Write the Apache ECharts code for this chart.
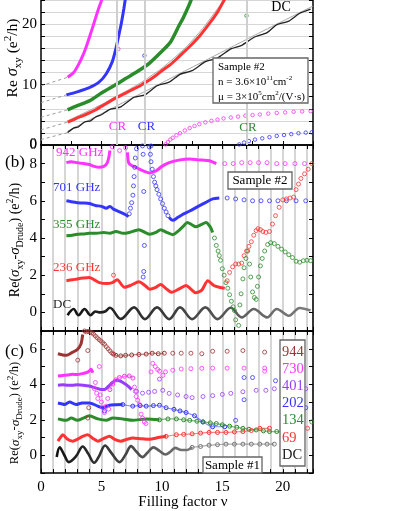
<!DOCTYPE html>
<html>
<head>
<meta charset="utf-8">
<script src="https://cdn.jsdelivr.net/npm/echarts@6/dist/echarts.min.js"></script>
<style>
  html, body { margin: 0; background: #fff; }
  #chart { width: 395px; height: 511px; }
</style>
</head>
<body>
<div id="chart"></div>
<script>
const FONT = '"Liberation Serif", "Times New Roman", serif';
const COL = {
  mag: '#ff33ff', blue: '#3434ff', green: '#2a8c2a', red: '#ff3333',
  dc: '#333333', brown: '#9c3434', purple: '#9a3cff', gray: '#a8a8a8'
};

// ---------- panel (a): Re sigma_xy, sample #2 ----------
const aDC = [[2.2,2.05],[2.7,2.8],[3.1,3.0],[3.6,3.8],[4.1,4.0],[4.5,4.6],[5.0,5.0],[5.7,5.9],[6.6,6.3],[7.7,7.9],[8.6,8.3],[9.6,9.8],[10.6,10.4],[11.5,11.7],[12.5,12.3],[13.6,13.8],[14.6,14.4],[15.7,15.9],[16.6,16.5],[17.6,17.8],[18.7,18.6],[19.5,19.9],[20.5,20.5],[21.4,21.8],[22.3,22.5]];
const a236 = [[2.2,3.8],[2.6,4.1],[3,4.5],[3.5,4.85],[4,5.3],[4.5,5.8],[5,6.4],[5.6,7.1],[6.2,7.8],[7,8.6],[7.5,9.1],[8,9.6],[8.5,10.2],[9,10.8],[9.5,11.5],[10,12.3],[10.7,13.3],[11.4,14.6],[12.3,16.3],[13.1,18.0],[14,20.3],[14.6,22.0],[15.1,23.8],[15.3,24.5]];
const a355 = [[2.2,5.8],[3,6.5],[4,7.3],[5,8.6],[6.2,10.0],[7,11.0],[8,12.2],[9,13.6],[10,15.5],[10.7,17.0],[11.4,19.7],[11.8,21.2],[12.3,23.4],[12.5,24.5]];
const a701 = [[2.1,8.3],[3,8.8],[4,9.5],[4.8,10.4],[5.4,11.8],[5.9,13.8],[6.2,16.0],[6.45,18.3],[6.65,20.2],[6.85,22.5],[7.0,24.5]];
const a942 = [[2.2,11.2],[2.7,12.0],[3.1,13.3],[3.5,15.0],[3.8,16.6],[4.1,18.4],[4.4,20.3],[4.7,22.2],[4.95,23.6],[5.1,24.5]];
const aDrudeDC = [[2.2,2.3],[6,6.2],[10,10.3],[14,14.4],[18,18.5],[22.5,23.0]];
const aDrude236 = [[2.2,4.0],[5,6.7],[8,10.0],[10,12.7],[12,16.2],[13.5,19.6],[14.9,23.4],[15.1,24]];
const aExtStart = [0.9, 2.5, 4.6, 7.0, 9.8];   // dashed extrapolations at nu = 0 (DC, 236, 355, 701, 942)
const aCR942 = [[10.3,0.1],[10.5,0.5],[10.7,0.9],[10.9,1.2],[11.2,1.6],[11.5,1.95],[11.9,2.4],[12.3,2.8],[12.7,3.15],[13.1,3.45],[13.6,3.75],[14.1,4.0],[14.6,4.2],[15.1,4.4],[15.7,4.55],[16.3,4.7],[16.9,4.85],[17.5,4.95],[18.1,5.05],[18.8,5.2],[19.5,5.3],[20.2,5.4],[20.9,5.5],[21.6,5.55],[22.3,5.6]];
const aCR701 = [[16.4,0.1],[16.8,0.4],[17.2,0.65],[17.7,0.9],[18.3,1.1],[18.9,1.3],[19.5,1.5],[20.1,1.65],[20.7,1.8],[21.3,1.95],[21.9,2.05],[22.4,2.1]];
const aOut942 = [[6.4,15.9]];
const aOut701 = [[8.55,14.8]];
const aOut355 = [[17.0,21.4]];
const crNu = [6.3, 8.55, 17.0];

// ---------- panel (b): Re(sigma_xy - sigma_Drude), sample #2 ----------
const b942a = [[2.1,8.05],[2.5,8.1],[3,8.05],[3.5,8.0],[4,7.95],[4.4,7.85],[4.8,7.8],[5.2,7.85],[5.45,8.0],[5.6,8.3],[5.7,8.7]];
const b942b = [[7.15,8.6],[7.25,8.05],[7.5,7.9],[8,7.75],[8.5,7.6],[9,7.5],[9.5,7.6],[10,7.85],[10.6,8.05],[11.5,8.2],[12.3,8.25],[13,8.2],[13.9,8.15],[14.5,8.0]];
const b942s = [[5.9,8.9],[6.5,8.7],[7.0,8.85],[15.2,8.0],[15.9,8.0],[16.6,8.05],[17.3,8.05],[18,8.05],[18.7,8.05],[19.5,8.0],[20.2,8.0],[21,8.0],[21.8,8.0]];
const b701a = [[2.1,6.0],[2.5,5.95],[3,5.9],[3.5,5.88],[4,5.85],[4.5,5.75],[5,5.7],[5.4,5.6],[5.7,5.7],[6,5.55],[6.5,5.4],[7,5.25],[7.25,5.15]];
const b701s = [[7.3,5.3],[7.4,5.6],[7.5,5.9],[7.6,6.3],[7.65,6.8],[7.7,7.3],[7.75,7.8],[7.8,8.3],[7.9,8.8],[8.4,8.95],[8.45,8.5],[8.5,6.5],[8.55,3.6],[8.5,2.2],[8.45,1.9],[9.1,8.95],[8.95,8.9],[9.05,8.5],[9.1,8.1],[9.2,7.7],[9.3,7.3],[9.4,7.0],[9.5,6.8],[9.6,6.6],[9.75,6.35],[9.9,6.1],[10.05,5.85],[10.2,5.6],[10.35,5.4],[10.5,5.2],[15.4,6.15],[16.1,6.1],[16.8,6.05],[17.5,6.0],[18.2,6.0],[18.9,6.0],[19.6,6.0],[20.3,6.0],[21.1,6.0],[21.9,6.0]];
const b701b = [[10.6,5.1],[10.9,4.95],[11.3,5.1],[11.8,5.3],[12.3,5.45],[13,5.7],[13.6,5.9],[14.2,6.1],[14.75,6.15]];
const b355a = [[2.1,4.12],[2.6,4.15],[3,4.2],[3.5,4.22],[4,4.25],[4.6,4.25],[5.2,4.3],[5.7,4.25],[6.2,4.35],[6.8,4.25],[7.3,4.3],[8.1,4.45],[8.6,4.3],[9.0,4.2],[9.5,4.3],[9.9,4.45],[10.4,4.3],[10.9,4.18],[11.4,4.4],[11.8,4.65],[12.1,4.84],[12.5,4.7],[12.8,4.6],[13.2,4.7],[13.65,4.84],[14.0,4.6],[14.2,4.3]];
const b355s = [[14.35,4.0],[14.5,3.6],[14.65,3.3],[14.75,3.05],[14.85,2.8],[15.0,2.35],[15.15,2.0],[15.3,1.6],[15.45,1.3],[15.6,0.95],[15.75,0.6],[15.9,0.3],[16.0,0.1],[16.1,-0.4],[16.35,-0.7],[16.45,0.4],[16.55,1.0],[16.7,1.8],[16.8,2.4],[16.95,2.9],[17.1,3.3],[17.25,2.6],[17.35,1.9],[17.5,1.1],[17.65,0.8],[17.8,0.7],[17.9,1.4],[18.0,1.9],[18.15,2.5],[18.3,2.9],[18.5,3.3],[18.75,3.65],[19.0,3.75],[19.3,3.7],[19.6,3.55],[19.9,3.4],[20.2,3.25],[20.5,3.1],[20.8,2.95],[21.1,2.75],[21.4,2.7],[21.7,2.78],[22.0,2.8],[22.3,2.78]];
const b236a = [[2.1,1.7],[2.6,1.75],[3,1.8],[3.5,1.85],[4,1.88],[4.4,1.75],[4.83,1.6],[5.4,1.55],[5.9,1.6],[6.3,1.75],[6.9,1.35],[7.4,1.45],[8.1,1.65],[8.6,1.45],[9.0,1.25],[9.5,1.35],[9.9,1.5],[10.4,1.25],[10.8,1.08],[11.4,1.25],[12.0,1.45],[12.4,1.25],[12.8,1.05],[13.3,1.2],[13.8,1.7],[14.3,1.45],[14.75,1.35],[15.2,1.3]];
const b236s = [[6.0,2.0],[15.4,1.7],[15.6,2.15],[15.85,2.45],[16.1,2.6],[16.35,2.6],[16.6,2.65],[16.8,3.05],[17.0,3.3],[17.2,3.55],[17.4,3.8],[17.6,4.15],[17.8,4.4],[17.95,4.5],[18.15,4.45],[18.35,4.35],[18.6,4.3],[18.9,4.35],[19.15,4.75],[19.4,5.2],[19.7,5.65],[20.0,6.05],[20.3,6.1],[20.6,6.15],[20.9,6.2],[21.1,6.6],[21.3,6.9],[21.5,7.2],[21.8,7.45],[22.1,7.7],[22.4,8.0]];
const bDC = [[2.2,-0.15],[2.7,0.18],[3.1,-0.15],[3.6,0.18],[4.1,-0.15],[4.5,0.05],[4.9,0.0],[5.3,0.05],[5.7,0.25],[6.6,-0.35],[7.7,0.27],[8.6,-0.36],[9.6,0.27],[10.6,-0.36],[11.5,0.27],[12.5,-0.36],[13.6,0.27],[14.6,-0.36],[15.7,0.25],[16.6,-0.27],[17.6,0.18],[18.7,-0.27],[19.5,0.18],[20.5,-0.18],[21.4,0.24],[22.3,0.1]];

// ---------- panel (c): sample #1 ----------
const c944a = [[1.4,5.72],[1.8,5.65],[2.1,5.63],[2.6,5.8],[3.0,5.95],[3.3,6.25],[3.45,6.8]];
const c944s = [[3.6,7.0],[3.75,6.95],[3.9,6.98],[4.05,6.95],[4.2,6.9],[4.35,6.82],[4.5,6.72],[4.65,6.62],[4.8,6.52],[4.95,6.44],[5.1,6.34],[5.25,6.25],[5.4,6.12],[5.55,6.0],[5.7,5.88],[5.85,5.77],[3.04,5.36],[3.87,5.9],[3.95,2.68],[3.87,2.1],[10.9,5.75],[11.6,5.75],[12.4,5.75],[13.3,5.72],[14.2,5.86],[15.4,5.86],[16.7,5.9],[18.5,5.81]];
const c944b = [[6.0,5.7],[6.2,5.63],[6.6,5.6],[7.0,5.63],[7.5,5.65],[8.1,5.68],[8.7,5.7],[9.2,5.75],[9.7,5.72],[10.2,5.75]];
const c730a = [[1.4,4.47],[1.8,4.5],[2.2,4.52],[2.6,4.56],[3.0,4.55],[3.4,4.6],[3.73,4.65],[4.0,4.75],[4.15,4.85],[4.28,4.65]];
const c730s = [[4.42,3.75],[4.5,4.1],[4.6,3.5],[4.7,3.2],[4.83,5.0],[4.9,3.4],[5.0,3.0],[5.1,2.7],[5.25,2.41],[5.39,2.77],[5.52,3.2],[5.6,2.6],[7.73,3.84],[7.8,3.6],[7.87,3.31],[8.0,3.1],[8.14,2.86],[8.28,2.32],[8.4,2.1],[8.55,1.88],[8.68,1.79],[9.1,4.7],[9.24,5.18],[9.45,5.0],[9.65,4.83],[9.8,4.74],[10.07,4.5],[10.3,4.7],[10.9,4.79],[11.6,4.86],[12.4,4.88],[13.3,4.9],[14.2,4.91],[15.4,4.91],[16.8,4.91],[18.5,4.91],[18.5,4.74]];
const c730b = [[5.7,3.7],[5.93,4.02],[6.2,4.25],[6.49,4.38],[6.9,4.45],[7.3,4.47],[7.6,4.35]];
const c401a = [[1.4,3.95],[1.8,3.97],[2.2,3.95],[2.6,3.95],[3.0,3.97],[3.5,3.95],[4.0,3.9],[4.5,3.8],[5.0,3.7],[5.3,3.72],[5.6,3.9],[5.9,4.1],[6.2,4.22],[6.5,4.2],[6.9,4.05],[7.2,3.9],[7.5,3.7]];
const c401s = [[7.9,3.6],[8.4,3.5],[8.9,3.55],[9.4,3.6],[9.8,4.29],[10.07,3.66],[10.6,3.49],[11.3,3.4],[12.0,3.31],[12.5,3.25],[13.4,3.31],[14.2,3.36],[15.0,3.43],[15.7,3.49],[16.7,3.58],[17.8,3.66],[18.6,3.66],[19.3,3.75],[21.9,3.75]];
const c202a = [[1.4,2.95],[1.7,2.9],[1.95,2.86],[2.36,3.0],[2.9,2.86],[3.4,2.95],[4.0,2.95],[4.7,2.77],[5.1,2.68],[5.66,2.82],[6.2,2.85],[6.76,2.86]];
const c202b = [[6.76,2.86],[7.59,2.77],[8.2,2.8],[8.7,2.77],[9.3,2.8],[9.8,2.82],[10.35,2.68],[11.0,2.59],[11.5,2.5],[12.0,2.41],[12.7,2.23],[13.4,1.88],[14.2,1.61],[15.2,1.61]];
const c202s = [[5.25,2.5],[16.1,1.97],[16.8,4.38],[16.8,3.13],[17.5,4.38],[19.4,4.2],[21.9,2.68]];
const c134a = [[1.4,2.05],[1.7,2.0],[2.08,1.97],[2.5,2.1],[3.0,1.97],[3.5,2.1],[4.0,2.23],[4.7,2.05],[5.4,1.97],[5.93,2.1],[6.76,2.05],[7.59,1.97],[8.7,2.05],[9.8,2.0]];
const c134b = [[9.8,2.0],[10.5,2.05],[11.2,2.05],[11.8,2.0],[12.3,1.97],[12.9,1.92],[13.4,1.88],[14.0,1.83],[14.5,1.79],[15.0,1.72],[15.6,1.64],[16.2,1.58],[16.7,1.52],[17.2,1.47],[17.8,1.43],[18.4,1.38],[18.9,1.34],[19.5,1.34],[20.3,1.34]];
const c134s = [[22.4,1.88]];
const c69a = [[1.4,0.8],[1.6,1.0],[1.8,1.16],[2.2,0.9],[2.63,0.8],[3.0,0.9],[3.45,1.07],[3.87,1.16],[4.3,0.95],[4.7,0.8],[5.2,0.95],[5.66,1.07],[6.1,0.9],[6.6,0.8],[7.1,0.9],[7.59,0.98],[8.3,0.93],[8.97,0.9],[9.7,1.0],[10.35,1.07]];
const c69b = [[10.35,1.07],[11.2,1.16],[11.8,1.18],[12.5,1.21],[13.2,1.25],[13.9,1.29],[14.6,1.29],[15.3,1.29],[16.0,1.32],[16.7,1.34],[17.4,1.4],[18.1,1.52],[18.9,1.52]];
const c69s = [[22.05,1.52]];
const cDCa = [[1.3,-0.09],[1.55,0.45],[1.9,0.05],[2.3,-0.38],[2.9,-0.05],[3.45,0.5],[3.9,0.1],[4.4,-0.42],[4.8,-0.05],[5.3,0.55],[5.8,0.15],[6.5,-0.38],[7.0,0.05],[7.45,0.52],[7.9,0.2],[8.4,-0.1],[8.8,0.15],[9.3,0.45],[9.8,0.25],[10.3,0.05],[10.7,0.2],[11.1,0.42],[11.6,0.3],[12.1,0.3],[12.5,0.45]];
const cDCb = [[12.5,0.45],[13.2,0.5],[13.9,0.57],[14.6,0.6],[15.3,0.63],[16.0,0.63],[16.7,0.63],[17.4,0.63],[18.1,0.63],[18.7,0.63],[19.3,0.63]];

const legendC = ['944', '730', '401', '202', '134', '69', 'DC'];
const legendCColors = [COL.brown, COL.mag, COL.purple, COL.blue, COL.green, COL.red, '#222'];

// ---------- helpers ----------
// axis indices: x: 0=a, 1=b bottom, 2=b top, 3=c bottom, 4=c top ; y: 0/1=a, 2/3=b, 4/5=c
const PANEL = { a: [0, 0], b: [1, 2], c: [3, 4] };

function dense(p, data, color, w, smooth) {
  return { type: 'line', xAxisIndex: PANEL[p][0], yAxisIndex: PANEL[p][1], data,
    showSymbol: false, smooth: smooth == null ? 0.25 : smooth,
    lineStyle: { color, width: w || 3 }, silent: true, z: 3 };
}
function dotted(p, data, color) {
  return { type: 'line', xAxisIndex: PANEL[p][0], yAxisIndex: PANEL[p][1], data,
    showSymbol: true, showAllSymbol: true, symbol: 'circle', symbolSize: 4, smooth: 0.25,
    itemStyle: { color: 'rgba(255,255,255,0)', borderColor: color, borderWidth: 1 },
    lineStyle: { color, width: 1.2, opacity: 0.6 }, silent: true, z: 3 };
}
function dots(p, data, color, size) {
  return { type: 'scatter', xAxisIndex: PANEL[p][0], yAxisIndex: PANEL[p][1], data,
    symbol: 'circle', symbolSize: size || 4,
    itemStyle: { color: 'rgba(255,255,255,0)', borderColor: color, borderWidth: 1 },
    silent: true, z: 3 };
}
function thin(data, color, dashed) {
  return { type: 'line', xAxisIndex: 0, yAxisIndex: 0, data, showSymbol: false,
    smooth: 0.2, lineStyle: { color, width: 1, type: dashed ? [3, 3] : 'solid' }, silent: true, z: 2 };
}

const xBase = (gridIndex, position, extra) => Object.assign({
  type: 'value', gridIndex, position, min: 0, max: 22.5, interval: 1,
  axisLine: { show: true, onZero: false, lineStyle: { color: '#000', width: 1.5 } },
  axisTick: { show: true, inside: true, length: 4, lineStyle: { color: '#000' } },
  axisLabel: { show: false },
  splitLine: { show: false }
}, extra);

const vLines = { show: true, lineStyle: { color: '#c8c8c8', width: 1.5 } };

const yPair = (gridIndex, min, max, interval, every, split) => {
  const base = {
    type: 'value', gridIndex, min, max, interval,
    axisLine: { show: true, onZero: false, lineStyle: { color: '#000', width: 1.5 } },
    axisTick: { show: true, inside: true, length: 4, lineStyle: { color: '#000' } }
  };
  return [
    Object.assign({}, base, { position: 'left',
      axisLabel: { show: true, color: '#000', fontFamily: FONT, fontSize: 15, margin: 4,
        showMinLabel: true, showMaxLabel: true,
        formatter: v => (Math.abs(v % every) < 1e-6 ? String(v) : '') },
      splitLine: { show: !!split, lineStyle: { color: '#d6d6d6', width: 1 } } }),
    Object.assign({}, base, { position: 'right', axisLabel: { show: false }, splitLine: { show: false } })
  ];
};

function makeRich(size) {
  const sub = Math.round(size * 0.68);
  return {
    n: { fontFamily: FONT, fontSize: size, lineHeight: size + 6, verticalAlign: 'middle', color: '#000' },
    i: { fontFamily: FONT, fontSize: size + 1, fontStyle: 'italic', lineHeight: size + 6, verticalAlign: 'middle', color: '#000' },
    s: { fontFamily: FONT, fontSize: sub, lineHeight: sub, verticalAlign: 'bottom', color: '#000' },
    p: { fontFamily: FONT, fontSize: sub, lineHeight: sub, verticalAlign: 'top', color: '#000' }
  };
}
const diffLabel = '{n|Re(}{i|σ}{s|xy}{n|-}{i|σ}{s|Drude}{n|) (e}{p|2}{n|/h)}';

const txt = (x, y, text, color, size, align) => ({
  type: 'text', x, y, z: 101,
  style: { text, fill: color || '#000', font: (size || 13) + 'px ' + FONT, align: align || 'left', verticalAlign: 'middle' }
});
const box = (x, y, w, h) => ({
  type: 'rect', z: 100, shape: { x, y, width: w, height: h },
  style: { fill: '#fff', stroke: '#666', lineWidth: 1.3 }
});

const boxRich = {
  t: { fontFamily: FONT, fontSize: 11, lineHeight: 15, verticalAlign: 'middle', color: '#000' },
  p: { fontFamily: FONT, fontSize: 7, lineHeight: 8, verticalAlign: 'top', color: '#000' }
};

// ---------- series ----------
const extSeries = [aDC, a236, a355, a701, a942].map((arr, k) =>
  thin([[0, aExtStart[k]], arr[0]], '#9a9a9a', true));

const series = [
  ...extSeries,
  Object.assign(thin(aDrudeDC, COL.gray), {
    markLine: { silent: true, symbol: 'none', label: { show: false },
      lineStyle: { color: '#cfcfcf', width: 2, type: 'solid' },
      data: crNu.map(v => ({ xAxis: v })) }
  }),
  thin(aDrude236, COL.gray),
  dense('a', aDC, '#222', 1.3, 0.2),
  dense('a', a236, COL.red, 3),
  dense('a', a355, COL.green, 3.5),
  dense('a', a701, COL.blue, 3),
  dense('a', a942, COL.mag, 3),
  dots('a', aCR942, COL.mag, 3.5),
  dots('a', aCR701, COL.blue, 3.5),
  dots('a', aOut942, COL.mag, 3.5),
  dots('a', aOut701, COL.blue, 3.5),
  dots('a', aOut355, COL.green, 3.5),

  dense('b', b942a, COL.mag, 3),
  dense('b', b942b, COL.mag, 3),
  dots('b', b942s, COL.mag),
  dense('b', b701a, COL.blue, 3),
  dense('b', b701b, COL.blue, 3),
  dots('b', b701s, COL.blue),
  dense('b', b355a, COL.green, 3),
  dots('b', b355s, COL.green),
  dense('b', b236a, COL.red, 3),
  dots('b', b236s, COL.red),
  Object.assign(dense('b', bDC, '#333', 2.6, 0.35), {
    lineStyle: { width: 2.6, color: new echarts.graphic.LinearGradient(0, 0, 1, 0,
      [{ offset: 0, color: '#111' }, { offset: 0.4, color: '#3a3a3a' }, { offset: 1, color: '#808080' }]) }
  }),

  dense('c', c944a, COL.brown, 3),
  dots('c', c944s, COL.brown),
  dotted('c', c944b, COL.brown),
  dense('c', c730a, COL.mag, 3),
  dots('c', c730s, COL.mag),
  dotted('c', c730b, COL.mag),
  dense('c', c401a, COL.purple, 3),
  dots('c', c401s, COL.purple),
  dense('c', c202a, COL.blue, 3),
  dotted('c', c202b, COL.blue),
  dots('c', c202s, COL.blue),
  dense('c', c134a, COL.green, 3),
  dotted('c', c134b, COL.green),
  dots('c', c134s, COL.green),
  dense('c', c69a, COL.red, 3),
  dotted('c', c69b, COL.red),
  dots('c', c69s, COL.red),
  Object.assign(dense('c', cDCa, '#333', 2.6, 0.35), {
    lineStyle: { width: 2.6, color: new echarts.graphic.LinearGradient(0, 0, 1, 0,
      [{ offset: 0, color: '#111' }, { offset: 0.5, color: '#444' }, { offset: 1, color: '#7a7a7a' }]) }
  }),
  dotted('c', cDCb, '#777')
];

// ---------- option ----------
const option = {
  animation: false,
  backgroundColor: '#fff',
  grid: [
    { left: 41, right: 82, top: -3.8, height: 148.8 },
    { left: 41, right: 82, top: 145, height: 186 },
    { left: 41, right: 82, top: 331, height: 148 }
  ],
  xAxis: [
    xBase(0, 'bottom', { interval: 2.5 }),
    xBase(1, 'bottom', { splitLine: vLines }),
    xBase(1, 'top'),
    xBase(2, 'bottom', {
      splitLine: vLines,
      axisLabel: { show: true, color: '#000', fontFamily: FONT, fontSize: 15, margin: 6,
        formatter: v => (Math.abs(v % 5) < 1e-6 ? String(v) : '') },
      name: 'Filling factor ν', nameLocation: 'middle', nameGap: 18,
      nameTextStyle: { color: '#000', fontFamily: FONT, fontSize: 15, padding: [0, 0, 0, 12] }
    }),
    xBase(2, 'top')
  ],
  yAxis: [
    ...yPair(0, 0, 24, 2, 10, true),
    ...yPair(1, -1, 9, 1, 2, false),
    ...yPair(2, -1, 7, 1, 2, false)
  ],
  series,
  graphic: [
    // axis titles
    { type: 'text', x: 13, y: 58, rotation: Math.PI / 2, z: 101,
      style: { text: '{n|Re }{i|σ}{s|xy}{n| (e}{p|2}{n|/h)}', rich: makeRich(15.5), align: 'center', verticalAlign: 'middle' } },
    { type: 'text', x: 15, y: 240, rotation: Math.PI / 2, z: 101,
      style: { text: diffLabel, rich: makeRich(14), align: 'center', verticalAlign: 'middle' } },
    { type: 'text', x: 15, y: 413, rotation: Math.PI / 2, z: 101,
      style: { text: diffLabel, rich: makeRich(12.5), align: 'center', verticalAlign: 'middle' } },
    // zero label of panel (a), sitting on the (a)/(b) boundary
    txt(37, 144, '0', '#000', 15, 'right'),

    // panel (a)
    txt(281, 7, 'DC', '#000', 14, 'center'),
    txt(117.5, 127, 'CR', COL.mag, 13, 'center'),
    txt(146.5, 127, 'CR', COL.blue, 13, 'center'),
    txt(248, 128, 'CR', COL.green, 13, 'center'),
    box(213, 58, 95, 45),
    { type: 'text', x: 218, y: 60, z: 101,
      style: { text: '{t|Sample #2}\n{t|n = 3.6×10}{p|11}{t|cm}{p|-2}\n{t|μ = 3×10}{p|5}{t|cm}{p|2}{t|/(V·s)}',
        rich: boxRich, align: 'left', verticalAlign: 'top' } },

    // panel (b)
    txt(5, 163, '(b)', '#000', 17),
    txt(56, 153, '942 GHz', COL.mag, 13),
    txt(53, 188, '701 GHz', COL.blue, 13),
    txt(53, 225, '355 GHz', COL.green, 13),
    txt(53, 268, '236 GHz', COL.red, 13),
    txt(53, 305, 'DC', '#222', 13),
    box(228, 172, 64, 17),
    txt(260, 180.5, 'Sample #2', '#000', 13, 'center'),

    // panel (c)
    txt(5, 352, '(c)', '#000', 17),
    box(280, 340, 25, 126),
    ...legendC.map((s, k) => txt(282, 351.7 + k * 17.2, s, legendCColors[k], 14.5)),
    box(203, 457, 59, 16),
    txt(232.5, 465.5, 'Sample #1', '#000', 13, 'center')
  ]
};

const chart = echarts.init(document.getElementById('chart'), null, { renderer: 'canvas' });
chart.setOption(option);
</script>
</body>
</html>
